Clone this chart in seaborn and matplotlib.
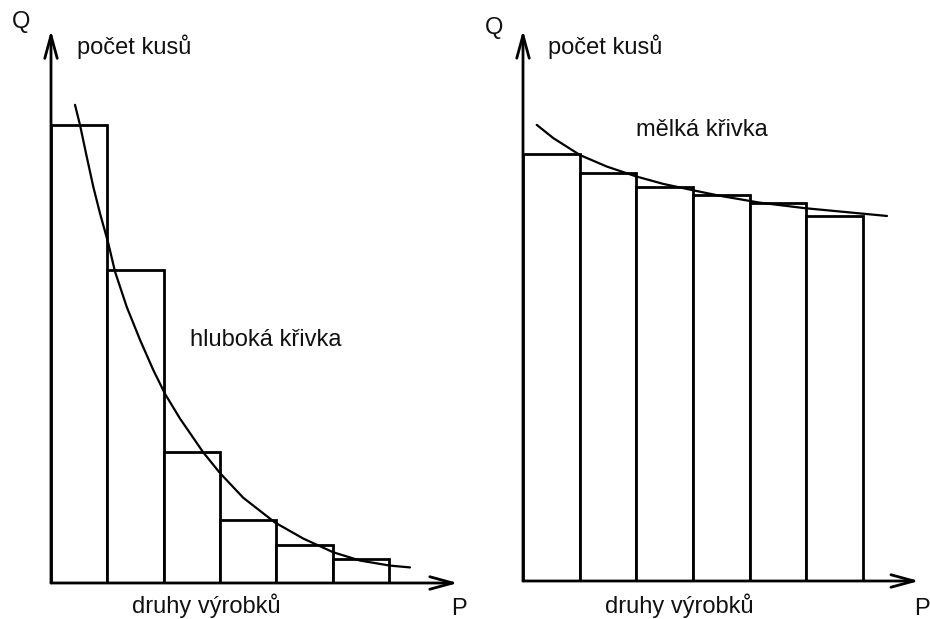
import matplotlib
matplotlib.use("Agg")
import matplotlib.pyplot as plt
import seaborn as sns

# druhy výrobků (kategorie) a počet kusů
druhy = ["1", "2", "3", "4", "5", "6"]
hluboka_kusy = [100, 68.3, 28.6, 13.8, 8.3, 5.2]
melka_kusy = [93.2, 89.1, 86.0, 84.3, 82.5, 79.7]

# body křivek (x v pozicích kategorií)
hluboka_krivka_x = [-0.074, 0.015, 0.134, 0.251, 0.37, 0.517, 0.636, 0.844,
                    1.08, 1.316, 1.524, 1.79, 2.204, 2.5, 2.914, 3.477,
                    3.979, 4.512, 4.986, 5.518, 5.873]
hluboka_krivka_y = [104.4, 100.0, 93.1, 86.5, 80.7, 74.2, 68.0, 60.3,
                    53.1, 46.5, 41.3, 35.9, 28.5, 24.0, 18.6, 13.2,
                    9.7, 6.7, 4.9, 3.8, 3.4]
melka_krivka_x = [-0.258, 0.035, 0.506, 0.977, 1.506, 1.976, 2.505, 2.976,
                  3.682, 4.476, 5.923]
melka_krivka_y = [99.6, 96.7, 93.0, 90.5, 88.3, 86.7, 85.3, 84.1,
                  82.6, 81.4, 79.7]

W, H = 930, 619
FONT = "Liberation Sans"
FS = 17


def px(x, y):
    return x / W, 1 - y / H


def draw_panel(ax, kusy, cx, cy, xlim, ylim, x_tip, y_tip):
    sns.barplot(x=druhy, y=kusy, ax=ax, color="white", edgecolor="black",
                linewidth=2, width=1.0, saturation=1)
    sns.lineplot(x=cx, y=cy, ax=ax, color="black", lw=1.6)
    ax.set_xlim(*xlim)
    ax.set_ylim(*ylim)
    ax.axis("off")
    style = "->,head_length=1.1,head_width=0.3"
    for tip in [(x_tip, 0), (-0.5, y_tip)]:
        ax.annotate("", xy=tip, xytext=(-0.5, 0), annotation_clip=False,
                    arrowprops=dict(arrowstyle=style, lw=2, color="black",
                                    mutation_scale=15, shrinkA=0, shrinkB=0))


sns.set_theme(style="white")
plt.rcParams["font.family"] = [FONT, "DejaVu Sans"]

fig = plt.figure(figsize=(W / 100, H / 100), dpi=100)

ax1 = fig.add_axes([51 / W, (H - 583) / H, 420 / W, 563 / H])
draw_panel(ax1, hluboka_kusy, hluboka_krivka_x, hluboka_krivka_y,
           (-0.5, -0.5 + 420 / 56.33), (0, 563 / 4.58), 6.725, 120.7)

ax2 = fig.add_axes([523 / W, (H - 581) / H, 400 / W, 561 / H])
draw_panel(ax2, melka_kusy, melka_krivka_x, melka_krivka_y,
           (-0.5, -0.5 + 400 / 56.67), (0, 561 / 4.58), 6.49, 120.3)

texty = [
    ("Q", 12, 22), ("počet kusů", 77, 47), ("hluboká křivka", 190, 340),
    ("druhy výrobků", 132, 606), ("P", 451, 609),
    ("Q", 485, 28), ("počet kusů", 548, 47), ("mělká křivka", 636, 130),
    ("druhy výrobků", 605, 606), ("P", 914, 609),
]
for t, x, y in texty:
    fig.text(*px(x, y), t, fontsize=FS, ha="left", va="center", color="#111111")

fig.savefig("out.png", dpi=100)
